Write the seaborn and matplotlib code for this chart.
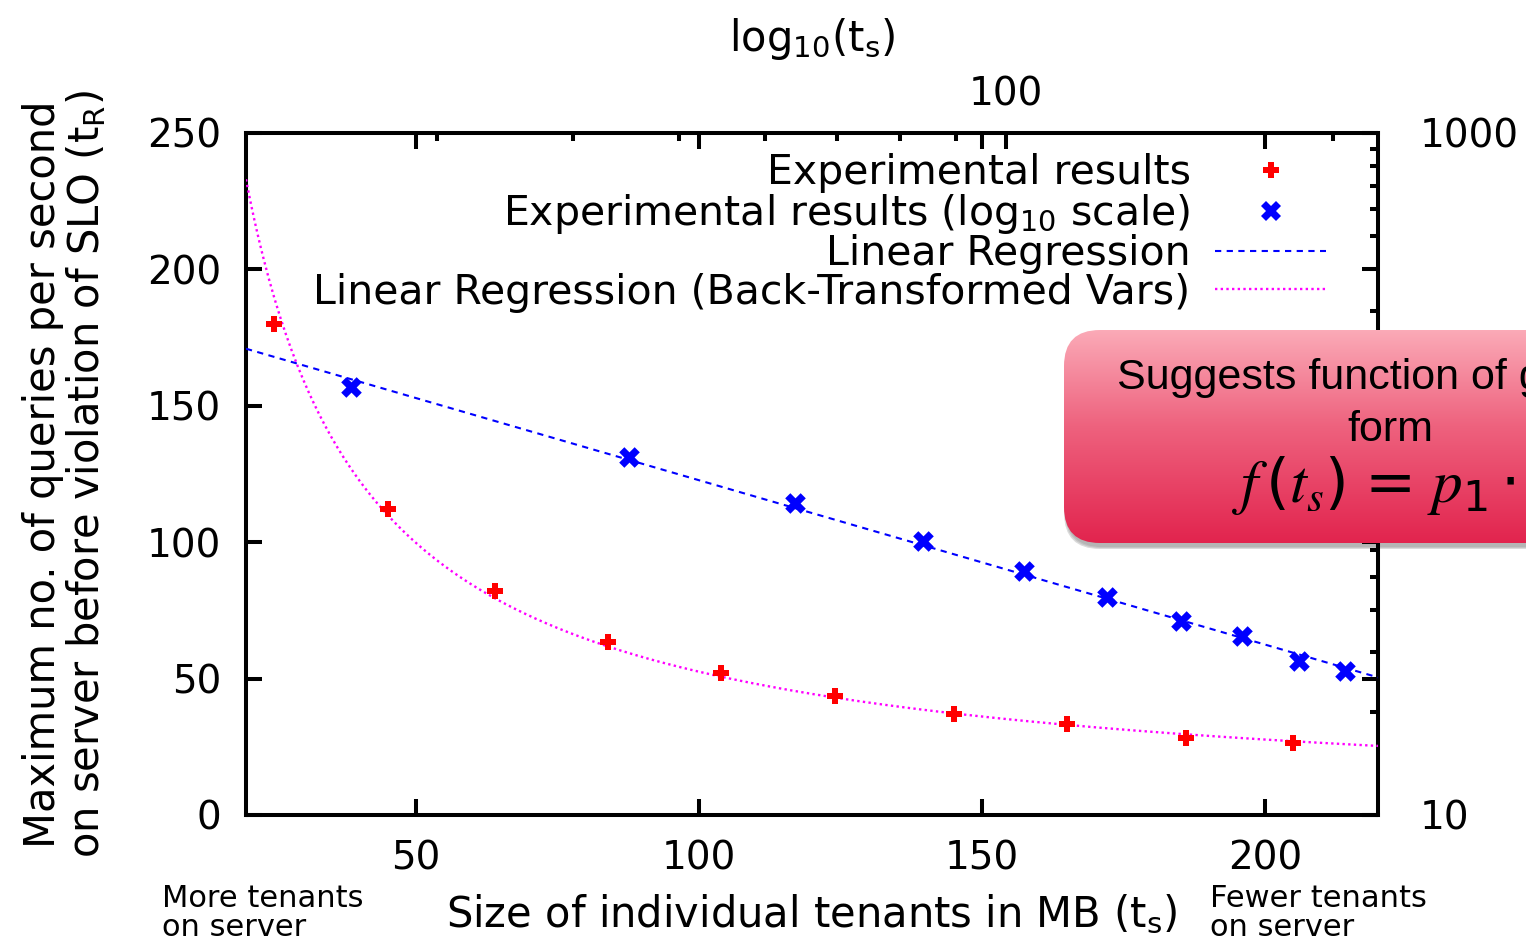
import matplotlib
matplotlib.use("Agg")
import matplotlib.pyplot as plt
import numpy as np
import seaborn as sns
from matplotlib.lines import Line2D
from matplotlib.patches import FancyBboxPatch
from matplotlib.ticker import FixedLocator, NullFormatter, FuncFormatter

# measured data: tenant size (MB) vs max queries per second before SLO violation
tenant_size = [25, 45, 64, 84, 104, 124, 145, 165, 186, 205]
max_qps = [180, 112, 82, 63.5, 52, 43.6, 37, 33.4, 28.3, 26.4]

x_ticks = [50, 100, 150, 200]
y_ticks = [0, 50, 100, 150, 200, 250]
x2_major = [100]
x2_minor = [30, 40, 50, 60, 70, 80, 90, 200]
y2_major = [10, 100, 1000]
y2_minor = [20, 30, 40, 50, 60, 70, 80, 90, 200, 300, 400, 500, 600, 700, 800, 900]

sns.set_style("ticks")
plt.rcParams["font.family"] = ["DejaVu Sans"]
plt.rcParams["mathtext.default"] = "regular"
plt.rcParams["mathtext.fontset"] = "dejavusans"
plt.rcParams["text.color"] = "black"
plt.rcParams["axes.labelcolor"] = "black"

# linear regression in log-log space, back-transformed: f(t) = p1 * t^p2
p2, logp1 = np.polyfit(np.log10(tenant_size), np.log10(max_qps), 1)
grid = np.linspace(20, 220, 400)
fit = 10 ** logp1 * grid ** p2

fig = plt.figure(figsize=(15.26, 9.43), dpi=100)
pos = [246 / 1526, 1 - 815 / 943, (1378 - 246) / 1526, (815 - 133) / 943]
ax = fig.add_axes(pos)
ax2 = fig.add_axes(pos, frameon=False)

LW = 2.9
TICK = 28
LABEL = 30
# linear axes
sns.scatterplot(x=tenant_size, y=max_qps, ax=ax, marker="P", color="red",
                s=140, linewidth=0, zorder=5)
sns.lineplot(x=grid, y=fit, ax=ax, color="magenta", lw=1.7,
             linestyle=(0, (1, 1.4)), zorder=4)
ax.set_xlim(20, 220)
ax.set_ylim(0, 250)
ax.set_xticks(x_ticks)
ax.set_yticks(y_ticks)
ax.tick_params(direction="in", length=11.5, width=LW, labelsize=TICK, pad=18,
               top=True, right=True, labeltop=False, labelright=False, colors="black")
for s in ax.spines.values():
    s.set_linewidth(LW)
    s.set_color("black")
ax.set_xlabel("Size of individual tenants in MB (t$_s$)", fontsize=LABEL, labelpad=11)
ax.set_ylabel("Maximum no. of queries per second\non server before violation of SLO (t$_R$)",
              fontsize=LABEL, labelpad=28, linespacing=1.0)

# log axes (x2 / y2)
ax2.set_xscale("log")
ax2.set_yscale("log")
ax2.set_xlim(20, 220)
ax2.set_ylim(10, 1000)
sns.scatterplot(x=tenant_size, y=max_qps, ax=ax2, marker="X", color="blue",
                s=220, linewidth=0, zorder=5)
sns.lineplot(x=grid, y=fit, ax=ax2, color="blue", lw=1.5,
             linestyle=(0, (3, 2.6)), zorder=4)
ax2.xaxis.set_major_locator(FixedLocator(x2_major))
ax2.xaxis.set_minor_locator(FixedLocator(x2_minor))
ax2.yaxis.set_major_locator(FixedLocator(y2_major))
ax2.yaxis.set_minor_locator(FixedLocator(y2_minor))
plain = FuncFormatter(lambda v, p: f"{v:g}")
# the y2 label "100" sits under the callout box in the reference
ax2.xaxis.set_major_formatter(plain)
ax2.yaxis.set_major_formatter(FuncFormatter(lambda v, p: "" if v == 100 else f"{v:g}"))
ax2.xaxis.set_minor_formatter(NullFormatter())
ax2.yaxis.set_minor_formatter(NullFormatter())
ax2.xaxis.tick_top()
ax2.yaxis.tick_right()
ax2.xaxis.set_label_position("top")
ax2.tick_params(which="major", direction="in", length=11.5, width=LW,
                labelsize=TICK, colors="black")
ax2.tick_params(which="minor", direction="in", length=6, width=LW, colors="black")
ax2.tick_params(axis="x", pad=14)
ax2.tick_params(axis="y", pad=30)
ax2.set_xlabel("log$_{10}$(t$_s$)", fontsize=LABEL, labelpad=18)
ax2.set_ylabel("")

handles = [
    Line2D([], [], ls="none", marker="P", color="red", ms=11, mew=0),
    Line2D([], [], ls="none", marker="X", color="blue", ms=14, mew=0),
    Line2D([], [], color="blue", lw=1.5, ls=(0, (3, 2.6))),
    Line2D([], [], color="magenta", lw=1.7, ls=(0, (1, 1.4))),
]
labels = ["Experimental results", "Experimental results (log$_{10}$ scale)",
          "Linear Regression", "Linear Regression (Back-Transformed Vars)"]
ax2.legend(handles, labels, loc="upper right", bbox_to_anchor=(0.972, 1.0),
           frameon=False, markerfirst=False, fontsize=29.5, handlelength=2.7,
           handletextpad=0.6, labelspacing=-0.04, borderaxespad=0.1)

# the callout box pasted over the chart
bx0, by_top, by_bot, bx1 = 1062, 330, 543, 1760
box_ax = fig.add_axes([bx0 / 1526, 1 - (by_bot + 10) / 943,
                       (bx1 - bx0) / 1526, (by_bot + 10 - by_top) / 943])
box_ax.set_axis_off()
w, h = bx1 - bx0, by_bot - by_top
box_ax.set_xlim(-2, w)
box_ax.set_ylim(-10, h)
for k, a in enumerate([0.08, 0.10, 0.14]):
    box_ax.add_patch(FancyBboxPatch((2 - k, -4 - k), w, h,
                     boxstyle="round,pad=0,rounding_size=36",
                     fc="black", ec="none", alpha=a))
patch = FancyBboxPatch((0, 0), w, h, boxstyle="round,pad=0,rounding_size=36",
                       fc="none", ec="none")
box_ax.add_patch(patch)
top_c = np.array([251, 170, 183]) / 255
mid_c = np.array([238, 98, 126]) / 255
bot_c = np.array([226, 36, 78]) / 255
t = np.linspace(0, 1, 200)[:, None]
grad = np.where(t < 0.45, top_c + (mid_c - top_c) * (t / 0.45),
                mid_c + (bot_c - mid_c) * ((t - 0.45) / 0.55))
img = box_ax.imshow(grad[:, None, :], extent=[0, w, 0, h], aspect="auto",
                    origin="upper", zorder=2)
img.set_clip_path(patch)

fig.text(1390 / 1526, 1 - 378 / 943, "Suggests function of general",
         family="Liberation Sans", fontsize=31, ha="center", va="center")
fig.text(1390 / 1526, 1 - 430 / 943, "form",
         family="Liberation Sans", fontsize=31, ha="center", va="center")
fig.text(1232 / 1526, 1 - 502 / 943,
         r"$\mathit{f}\,(\mathit{t}_{\mathit{s}})\,=\,\mathit{p}_1 \cdot \mathit{t}_{\mathit{s}}^{\,\mathit{p}_2}$",
         math_fontfamily="stix", fontsize=44, ha="left", va="baseline")

fig.text(162 / 1526, 1 - 884 / 943, "More tenants\non server", fontsize=22,
         ha="left", va="top", linespacing=1.0)
fig.text(1210 / 1526, 1 - 884 / 943, "Fewer tenants\non server", fontsize=22,
         ha="left", va="top", linespacing=1.0)

fig.savefig("out.png", dpi=100)
